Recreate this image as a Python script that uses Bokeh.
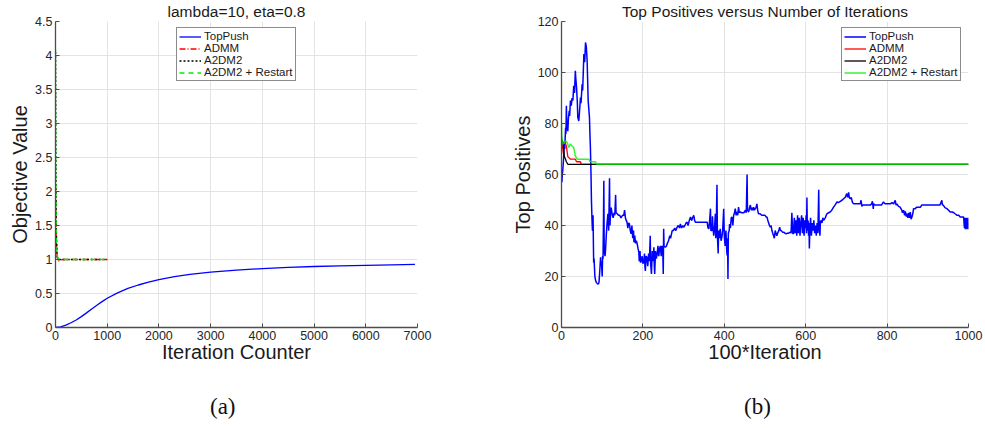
from bokeh.plotting import figure
from bokeh.layouts import row, column
from bokeh.models import Range1d, FixedTicker, CustomJSTickFormatter, Div
from bokeh.embed import file_html
from bokeh.resources import INLINE

# ---- (a) objective value vs iteration counter ----
obj_toppush_iter = [0, 100, 200, 300, 400, 500, 600, 700, 800, 900, 1000, 1200, 1400, 1600,
                    1800, 2000, 2300, 2600, 3000, 3500, 4000, 4500, 5000, 5500, 6000, 6500, 6950]
obj_toppush_val = [0.0, 0.008, 0.035, 0.07, 0.11, 0.16, 0.215, 0.272, 0.328, 0.38, 0.43, 0.51, 0.575, 0.625,
                   0.668, 0.705, 0.748, 0.78, 0.815, 0.845, 0.867, 0.883, 0.897, 0.906, 0.914, 0.921, 0.927]
obj_admm_iter = [0, 5, 15, 30, 50, 80, 150, 1000]
obj_admm_val = [2.05, 1.7, 1.3, 1.05, 0.97, 0.99, 1.0, 1.0]
obj_a2dm2_iter = [0, 3, 8, 15, 30, 60, 1000]
obj_a2dm2_val = [4.05, 3.0, 2.0, 1.4, 1.05, 1.0, 1.0]
obj_restart_iter = [0, 3, 8, 15, 30, 60, 1000]
obj_restart_val = [4.1, 3.0, 2.0, 1.4, 1.05, 1.0, 1.0]
obj_xticks = [0, 1000, 2000, 3000, 4000, 5000, 6000, 7000]
obj_yticks = [0, 0.5, 1, 1.5, 2, 2.5, 3, 3.5, 4, 4.5]

# ---- (b) top positives vs 100*iteration ----
top_toppush_iter = [
    0, 1, 2, 3, 5, 7, 8, 10, 11, 12, 13, 15.5, 17, 19, 20, 22, 24, 26, 28, 30, 32, 34, 35, 37, 39, 40,
    42.5, 44, 46.6, 48, 50.7, 52, 55, 57, 59, 61, 63, 65.5, 68.7, 70, 71, 72.5, 73.6, 75, 76, 77.5, 79,
    80, 82, 84, 86, 88, 90, 92, 94, 96, 97, 98, 100, 101, 102, 103, 104, 105, 107, 108, 110, 112, 114,
    116, 118, 119, 121, 122, 125, 127, 129, 131, 133, 134, 137, 140, 143, 146, 150, 153, 155, 157, 159,
    161, 163, 165, 167, 169, 171, 173, 175, 177, 178, 180, 182, 184, 186, 188, 190, 191, 193, 194, 196,
    198, 200, 202, 204, 205, 206, 208, 210, 212, 214, 216, 218, 219, 221, 223, 225, 227, 228, 229, 231,
    233, 235, 237, 239, 241, 243, 245, 247, 249, 250, 251, 252, 255, 258, 260, 263, 266, 268, 272, 275,
    278, 281, 284, 287, 290, 292, 295, 298, 300, 303, 306, 308.5, 311, 314, 317, 320, 322, 325, 327,
    329, 340, 350, 358, 360, 362, 364, 366, 367, 370, 371, 372, 374, 376, 378, 379, 380, 382, 383, 385,
    386, 388, 390, 392, 394, 396, 398.5, 400, 402, 404, 406, 407, 408, 409, 410, 412, 413, 415, 417,
    419, 421, 423, 425, 427, 429, 431, 433, 435, 437, 439.5, 442, 445, 448, 452, 454, 456, 457, 460,
    462, 464, 466, 468, 470, 472, 474, 476, 478, 480, 482, 484, 488, 492, 497, 500, 503, 505, 507, 509,
    511, 513, 515, 517, 519, 521, 523, 525, 527, 529, 531, 534, 536, 538, 540, 543, 546, 549, 552, 555,
    558, 562, 564, 566, 568, 570, 572, 574, 576, 578, 580, 582, 584, 586, 588, 590, 592, 594, 596, 598,
    600, 601, 602, 603, 604, 606, 607, 608, 609, 610, 612, 614, 616, 618, 620, 622, 624, 626, 628, 630,
    632, 633, 635, 636, 638, 640, 642, 644, 648, 652, 656, 660, 664, 668.5, 672, 677, 680, 685, 690,
    693, 697, 701, 703, 705.6, 707, 709.5, 712, 715, 717.7, 722, 728, 734, 736, 738, 740, 742, 746,
    750, 755, 758.6, 762, 764, 766, 767, 770, 775, 780, 786, 791, 795, 800, 804, 808, 812, 816, 820,
    822, 824, 828, 832, 836, 838, 840.5, 843, 845, 847, 849, 851, 853, 855, 857, 859, 861, 863, 865,
    869, 873, 878, 882, 885, 890, 900, 910, 922, 930, 934.5, 936, 938, 942, 947, 951, 955, 960, 964,
    967, 972, 976, 979.5, 984, 988, 990, 991, 992, 993, 994, 995, 996, 997, 998, 999, 1000]
top_toppush_val = [
    58.8, 57, 60, 61.5, 66, 72, 70, 78.4, 76, 87, 80, 77, 82, 85, 83, 89, 87, 90, 89, 94.8, 92, 100.7,
    98, 94, 88, 82.4, 81, 84, 90.2, 88, 95.4, 93, 107.2, 104, 111.8, 110, 104.6, 89, 82.4, 75, 70.6,
    60, 49.7, 42, 38, 44, 25.5, 27, 20, 18.3, 17.6, 17.2, 17, 17.5, 22, 27.5, 24, 26, 20, 28, 27, 40,
    57.5, 30, 28, 30, 36, 41, 44.6, 38, 58.5, 40, 46, 47, 44, 43, 45, 44, 52, 45, 44.6, 44, 44, 43,
    44, 44, 46, 43, 42, 41.3, 39, 41, 40.6, 38, 36.7, 40, 35, 38, 33.4, 36, 33, 34, 32.8, 31, 29.5,
    26, 30, 25.5, 26, 28, 25, 26, 29, 24, 22.2, 28, 27.5, 24, 29, 26, 36, 25, 21, 30, 26, 31.5, 24,
    21, 30, 27, 28.8, 32, 28, 31, 32, 28, 32, 29, 21, 38.7, 32, 31.5, 32, 33, 34, 36, 35, 38, 38, 39,
    38, 39.3, 40, 39, 40.6, 39, 40, 39.3, 40, 41, 41.3, 40, 42, 43.3, 42, 43, 44, 42, 41.3, 41.3,
    41.3, 41.3, 39, 38.7, 42, 46.6, 38, 38, 43.6, 40, 36, 39, 44.6, 35, 38, 56, 36, 29, 38, 35,
    38.7, 34, 35.4, 38, 46.6, 36, 32, 38, 30, 28.3, 35, 19, 37, 38, 40.6, 39, 43, 43.3, 40, 44, 45,
    46.6, 44, 45.3, 44, 47.2, 45, 45.4, 45, 45, 45, 46, 45, 60, 46, 45.3, 47, 48, 46, 47, 46, 47.2,
    46, 46.6, 47, 48.5, 46, 44.6, 44.6, 44, 44, 44, 43.3, 43.3, 42, 41, 40, 39.3, 40, 38, 37, 36, 35,
    38, 37, 36, 37, 38, 39.3, 38, 38, 37.4, 37.4, 37, 36.7, 37, 37, 37.4, 37, 45, 37, 36.7, 43, 37,
    42, 36, 44, 37, 43, 36, 41, 44, 37, 43, 36, 42, 39, 44, 37, 51, 38, 42, 36, 41, 31, 37, 43, 36,
    41, 38, 42, 37, 40, 36, 41, 37, 54, 40, 36, 41.3, 42, 41, 43, 42, 43, 44.6, 45, 45.3, 46, 47.2,
    48, 49.2, 49, 49.5, 50, 50.5, 51, 52.5, 51, 53, 51, 50.5, 51, 49, 48.5, 48.5, 48.5, 48.5, 49.9,
    47.5, 48, 48, 48, 48, 48, 48, 48.5, 49.5, 46.5, 48.5, 48, 48, 48, 48, 49.2, 48.5, 48.5, 48.5, 48.5,
    49, 48.5, 49.9, 48, 48.5, 47.5, 47.2, 46, 45, 46, 44, 45.5, 43.5, 44.6, 43, 45, 43, 45.3, 42.5,
    43.3, 44.5, 46.6, 46.6, 47.2, 47.2, 47.2, 48, 48, 48, 48, 48, 48, 49.9, 48, 48, 47, 46.6, 46,
    45.3, 45.3, 45, 44.6, 44, 44, 43.3, 43.3, 43.3, 39, 43, 38.5, 42.8, 39, 43, 38.5, 42.5, 39, 43,
    38.5]
top_admm_iter = [0, 2, 4, 7, 10, 12, 15.5, 22, 34, 37, 47, 48, 1000]
top_admm_val = [68, 70, 72, 73, 72, 71, 67, 66, 66, 65, 65, 64, 64]
top_a2dm2_iter = [0, 2, 4, 7, 10, 12, 15.5, 1000]
top_a2dm2_val = [74, 73, 72, 67, 66, 65, 64, 64]
top_restart_iter = [0, 0.5, 2, 4, 7, 10, 14, 18, 22, 26, 30, 34, 38.5, 67, 71, 83.5, 86, 1000]
top_restart_val = [80, 76, 73, 72, 72.5, 73.2, 72.5, 70.6, 72, 71.2, 70.6, 67.3, 66, 66, 65, 65, 64, 64]
top_xticks = [0, 200, 400, 600, 800, 1000]
top_yticks = [0, 20, 40, 60, 80, 100, 120]

SANS = "Liberation Sans"
TXT = "#262626"


def style(p, xticks, yticks):
    p.outline_line_color = None
    p.title.align = "center"
    p.title.vertical_align = "top"
    p.title.text_font = SANS
    p.title.text_font_size = "15.5px"
    p.title.text_font_style = "normal"
    p.title.text_color = "#1a1a1a"
    p.title.standoff = 0
    p.xaxis.ticker = FixedTicker(ticks=xticks)
    p.yaxis.ticker = FixedTicker(ticks=yticks)
    p.xgrid.ticker = FixedTicker(ticks=xticks)
    p.ygrid.ticker = FixedTicker(ticks=yticks)
    for ax in (p.xaxis[0], p.yaxis[0]):
        ax.formatter = CustomJSTickFormatter(code="return String(tick)")
        ax.axis_line_color = "#4d4d4d"
        ax.axis_line_width = 1.3
        ax.major_tick_line_color = "#4d4d4d"
        ax.major_tick_in = 4
        ax.major_tick_out = 0
        ax.minor_tick_line_color = None
        ax.major_label_text_font = SANS
        ax.major_label_text_font_size = "12.5px"
        ax.major_label_text_color = TXT
        ax.major_label_standoff = 3
        ax.axis_label_text_font = SANS
        ax.axis_label_text_font_size = "20px"
        ax.axis_label_text_font_style = "normal"
        ax.axis_label_text_color = "#1a1a1a"
    p.xaxis[0].axis_label_standoff = -2
    p.yaxis[0].axis_label_standoff = 1
    for g in (p.xgrid[0], p.ygrid[0]):
        g.grid_line_color = "#e3e3e3"
        g.grid_line_width = 1


def style_legend(p, loc):
    lg = p.legend[0]
    lg.location = loc
    lg.label_text_font = SANS
    lg.label_text_font_size = "11.5px"
    lg.label_text_color = "#1a1a1a"
    lg.label_height = 11
    lg.glyph_height = 11
    lg.glyph_width = 22
    lg.label_standoff = 3
    lg.padding = 2
    lg.spacing = 0
    lg.margin = 0
    lg.border_line_color = "#1a1a1a"
    lg.border_line_width = 1
    lg.background_fill_alpha = 1


# ---- figure (a) ----
pa = figure(width=490, height=375, x_range=Range1d(0, 7000), y_range=Range1d(0, 4.5),
            output_backend="svg", toolbar_location=None, title="lambda=10, eta=0.8",
            x_axis_label="Iteration Counter", y_axis_label="Objective Value",
            min_border_left=55, min_border_right=73, min_border_top=21, min_border_bottom=48)
style(pa, obj_xticks, obj_yticks)
pa.line(obj_toppush_iter, obj_toppush_val, color="#0000ff", line_width=1.3, legend_label="TopPush")
pa.line(obj_admm_iter, obj_admm_val, color="#ff0000", line_width=1.3, line_dash="6 2 1 2",
        legend_label="ADMM")
pa.line(obj_a2dm2_iter, obj_a2dm2_val, color="#000000", line_width=1.5, line_dash="2 2",
        legend_label="A2DM2")
pa.line(obj_restart_iter, obj_restart_val, color="#00ee00", line_width=1.3, line_dash="5 4",
        legend_label="A2DM2 + Restart")
style_legend(pa, (121, 246))

# ---- figure (b) ----
pb = figure(width=495, height=375, x_range=Range1d(0, 1000), y_range=Range1d(0, 120),
            output_backend="svg", toolbar_location=None,
            title="Top Positives versus Number of Iterations",
            x_axis_label="100*Iteration", y_axis_label="Top Positives",
            min_border_left=71, min_border_right=17, min_border_top=21, min_border_bottom=48)
style(pb, top_xticks, top_yticks)
pb.line(top_toppush_iter, top_toppush_val, color="#0000ff", line_width=1.5, legend_label="TopPush")
pb.line(top_admm_iter, top_admm_val, color="#ff0000", line_width=1.3, legend_label="ADMM")
pb.line(top_a2dm2_iter, top_a2dm2_val, color="#000000", line_width=1.3, legend_label="A2DM2")
pb.line(top_restart_iter, top_restart_val, color="#00ee00", line_width=1.5, line_alpha=0.78,
        legend_label="A2DM2 + Restart")
style_legend(pb, (280, 246))

# sub-figure captions
captions = Div(
    text=('<div style="position:relative;width:985px;height:53px;'
          'font-family:\'Liberation Serif\',serif;font-size:23px;color:#111;">'
          '<span style="position:absolute;left:210px;top:19px;line-height:26px;">(a)</span>'
          '<span style="position:absolute;left:744px;top:19px;line-height:26px;">(b)</span>'
          '</div>'),
    width=985, height=53, margin=(0, 0, 0, 0))

layout = column(row(pa, pb), captions)
open("out.html", "w").write(file_html(layout, INLINE))
